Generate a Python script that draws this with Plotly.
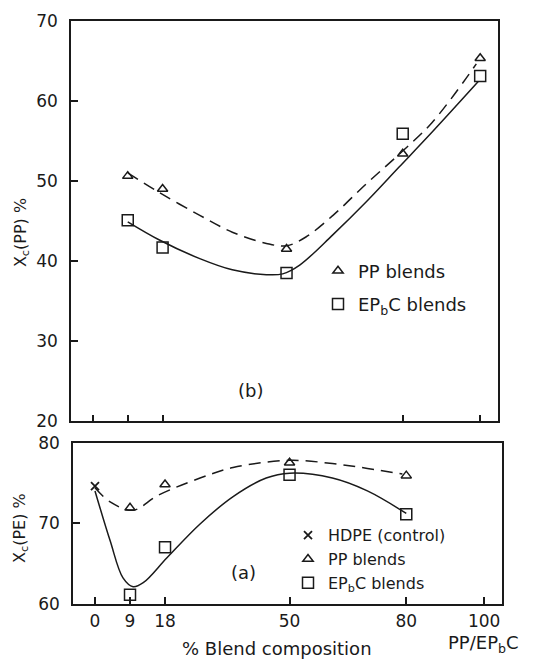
import plotly.graph_objects as go

# ---------------- data ----------------
tick_vals = [0, 9, 18, 50, 80, 100]
tick_text = ["0", "9", "18", "50", "80", "100"]

# (b) top panel: Xc(PP) %
b_x = [9, 18, 50, 80, 100]
b_pp = [50.6, 49.0, 41.5, 53.4, 65.3]
b_epbc = [45.1, 41.7, 38.5, 55.9, 63.1]
# fitted curves
b_pp_fit_x = [9, 17, 27.6, 36, 44.8, 50, 55, 62, 70.5, 79, 87.6, 99]
b_pp_fit_y = [51.0, 48.6, 45.7, 43.6, 42.2, 41.9, 43.0, 45.7, 49.6, 53.3, 57.3, 64.6]
b_ep_fit_x = [9, 17.3, 27.6, 36, 44.8, 49, 53.4, 62, 70.6, 79, 87.6, 99.5]
b_ep_fit_y = [44.9, 42.6, 40.3, 38.9, 38.3, 38.4, 39.5, 43.3, 47.4, 51.7, 56.1, 62.4]

# (a) bottom panel: Xc(PE) %
a_hdpe_x = [0]
a_hdpe = [74.6]
a_x = [9, 18, 50, 80]
a_pp = [71.9, 74.8, 77.5, 75.9]
a_epbc = [61.1, 67.0, 76.0, 71.1]
a_pp_fit_x = [0, 4, 9.8, 16, 27, 35.5, 50, 61, 70, 79]
a_pp_fit_y = [74.4, 72.6, 71.6, 73.4, 75.6, 76.9, 77.8, 77.4, 76.8, 76.1]
a_ep_fit_x = [0, 3.9, 7.2, 9.8, 12.4, 18.5, 27, 35.5, 44, 50, 61, 70, 80]
a_ep_fit_y = [74.0, 67.8, 63.2, 62.1, 62.6, 65.7, 69.9, 73.3, 75.6, 76.2, 75.6, 74.0, 71.2]

INK = "#1a1a1a"
FONT = "DejaVu Sans"
W, H = 549, 667

def px(x):
    return x / W

def py(y):
    return 1 - y / H

fig = go.Figure()

dash = "12px,7px"

# ---- top panel (b) ----
fig.add_trace(go.Scatter(x=b_pp_fit_x, y=b_pp_fit_y, mode="lines", xaxis="x2", yaxis="y2",
                         line=dict(color=INK, width=1.5, dash=dash, shape="spline", smoothing=1.0),
                         showlegend=False, hoverinfo="skip"))
fig.add_trace(go.Scatter(x=b_ep_fit_x, y=b_ep_fit_y, mode="lines", xaxis="x2", yaxis="y2",
                         line=dict(color=INK, width=1.5, shape="spline", smoothing=1.0),
                         showlegend=False, hoverinfo="skip"))
fig.add_trace(go.Scatter(x=b_x, y=b_pp, mode="markers", xaxis="x2", yaxis="y2", name="PP blends",
                         marker=dict(symbol="triangle-up-open", size=9, color=INK, line=dict(width=1.5, color=INK)),
                         legend="legend", legendgroup="b1"))
fig.add_trace(go.Scatter(x=b_x, y=b_epbc, mode="markers", xaxis="x2", yaxis="y2",
                         name="EP<sub>b</sub>C blends",
                         marker=dict(symbol="square-open", size=11, color=INK, line=dict(width=1.5, color=INK)),
                         legend="legend", legendgroup="b2"))

# ---- bottom panel (a) ----
fig.add_trace(go.Scatter(x=a_pp_fit_x, y=a_pp_fit_y, mode="lines", xaxis="x", yaxis="y",
                         line=dict(color=INK, width=1.5, dash=dash, shape="spline", smoothing=1.0),
                         showlegend=False, hoverinfo="skip"))
fig.add_trace(go.Scatter(x=a_ep_fit_x, y=a_ep_fit_y, mode="lines", xaxis="x", yaxis="y",
                         line=dict(color=INK, width=1.5, shape="spline", smoothing=1.0),
                         showlegend=False, hoverinfo="skip"))
fig.add_trace(go.Scatter(x=a_hdpe_x, y=a_hdpe, mode="markers", xaxis="x", yaxis="y", name="HDPE (control)",
                         marker=dict(symbol="x-thin", size=8, color=INK, line=dict(width=1.8, color=INK)),
                         legend="legend2", legendgroup="a0"))
fig.add_trace(go.Scatter(x=a_x, y=a_pp, mode="markers", xaxis="x", yaxis="y", name="PP blends",
                         marker=dict(symbol="triangle-up-open", size=9, color=INK, line=dict(width=1.5, color=INK)),
                         legend="legend2", legendgroup="a1"))
fig.add_trace(go.Scatter(x=a_x, y=a_epbc, mode="markers", xaxis="x", yaxis="y",
                         name="EP<sub>b</sub>C blends",
                         marker=dict(symbol="square-open", size=11, color=INK, line=dict(width=1.5, color=INK)),
                         legend="legend2", legendgroup="a2"))

axis_common = dict(showline=True, linecolor=INK, linewidth=1.5, mirror=True, showgrid=False,
                   zeroline=False, ticks="inside", ticklen=7, tickwidth=1.5, tickcolor=INK,
                   tickfont=dict(family=FONT, size=17, color=INK))

xr = [-5.65, 104.6]
fig.update_layout(
    width=W, height=H,
    margin=dict(l=0, r=0, t=0, b=0),
    paper_bgcolor="white", plot_bgcolor="white",
    font=dict(family=FONT, size=17, color=INK),
    xaxis=dict(domain=[px(73), px(502)], range=xr, anchor="y", tickvals=tick_vals, ticktext=tick_text,
               ticklabelstandoff=1, **axis_common),
    yaxis=dict(domain=[py(612), py(446)], range=[60, 80], anchor="x", tickvals=[60, 70, 80],
               ticklabelstandoff=8, **axis_common),
    xaxis2=dict(domain=[px(71), px(498)], range=xr, anchor="y2", tickvals=[0, 9, 18, 80, 100],
                showticklabels=False, **axis_common),
    yaxis2=dict(domain=[py(424), py(11)], range=[20, 70], anchor="x2", tickvals=[20, 30, 40, 50, 60, 70],
                ticklabelstandoff=8, **axis_common),
    legend=dict(x=px(318), y=py(250), xanchor="left", yanchor="top", bgcolor="rgba(0,0,0,0)",
                font=dict(family=FONT, size=18, color=INK), tracegroupgap=7, itemwidth=30),
    legend2=dict(x=px(288), y=py(524), xanchor="left", yanchor="top", bgcolor="rgba(0,0,0,0)",
                 font=dict(family=FONT, size=16, color=INK), tracegroupgap=0, itemwidth=30),
    showlegend=True,
)

ann = dict(xref="paper", yref="paper", showarrow=False, xanchor="center", yanchor="middle",
           font=dict(family=FONT, size=18, color=INK))
fig.add_annotation(text="(b)", x=px(250), y=py(392), **ann)
fig.add_annotation(text="(a)", x=px(243), y=py(580), **ann)
fig.add_annotation(text="PP/EP<sub>b</sub>C", x=px(483), y=py(654), **ann)
fig.add_annotation(text="% Blend composition", x=px(277), y=py(658), **ann)
ann_t = dict(ann, font=dict(family=FONT, size=16, color=INK))
fig.add_annotation(text="X<sub>c</sub>(PP) %", x=px(21), y=py(230), textangle=-90, **ann_t)
fig.add_annotation(text="X<sub>c</sub>(PE) %", x=px(21), y=py(534), textangle=-90, **ann_t)

fig.write_html("out.html")
